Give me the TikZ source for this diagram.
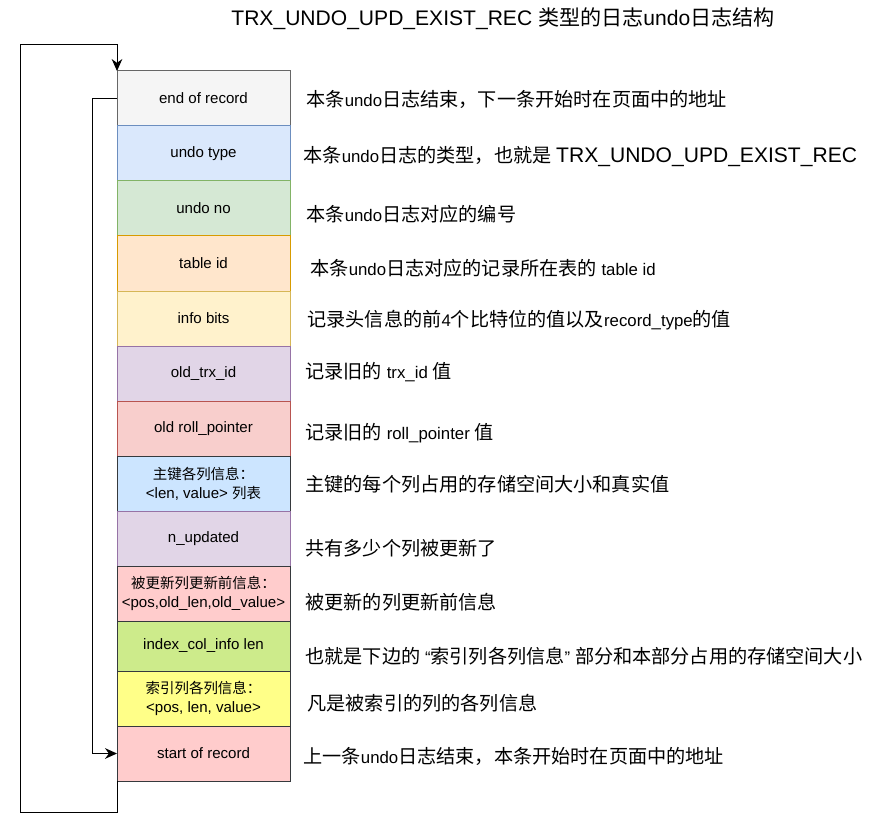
\documentclass[tikz,border=0pt]{standalone}
\usepackage{fontspec}
\setmainfont{Liberation Sans}
\newfontfamily\cjkbig[Scale=1.14]{Noto Sans CJK SC}
\newfontfamily\cjknorm{Noto Sans CJK SC}
\newfontfamily\cjksmall[Scale=0.96]{Noto Sans CJK SC}
\newfontfamily\lat{Liberation Sans}
\let\cjkfont\cjkbig
\usetikzlibrary{positioning,arrows.meta}

% switch to the CJK font for Chinese characters
\XeTeXinterchartokenstate=1
\newXeTeXintercharclass\cjkcls
\count255="4E00
\loop
  \XeTeXcharclass\count255=\cjkcls
  \ifnum\count255<"9FFF \advance\count255 by 1 \repeat
\XeTeXcharclass"FF0C=\cjkcls
\XeTeXcharclass"FF1A=\cjkcls
\XeTeXinterchartoks 0 \cjkcls = {\cjkfont}
\XeTeXinterchartoks 4095 \cjkcls = {\cjkfont}
\XeTeXinterchartoks \cjkcls 0 = {\lat}
\XeTeXinterchartoks \cjkcls 4095 = {\lat}

\definecolor{grayF}{HTML}{F5F5F5}\definecolor{grayS}{HTML}{666666}
\definecolor{blueF}{HTML}{DAE8FC}\definecolor{blueS}{HTML}{6C8EBF}
\definecolor{greenF}{HTML}{D5E8D4}\definecolor{greenS}{HTML}{82B366}
\definecolor{orangeF}{HTML}{FFE6CC}\definecolor{orangeS}{HTML}{D79B00}
\definecolor{yellowF}{HTML}{FFF2CC}\definecolor{yellowS}{HTML}{D6B656}
\definecolor{purpleF}{HTML}{E1D5E7}\definecolor{purpleS}{HTML}{9673A6}
\definecolor{redF}{HTML}{F8CECC}\definecolor{redS}{HTML}{B85450}
\definecolor{keyF}{HTML}{CCE5FF}\definecolor{darkS}{HTML}{36393D}
\definecolor{pinkF}{HTML}{FFCCCC}
\definecolor{limeF}{HTML}{CDEB8B}
\definecolor{lemonF}{HTML}{FFFF88}

\begin{document}
\begin{tikzpicture}[x=0.75pt, y=-0.75pt, line width=0.75pt,
  box/.style={rectangle, draw, minimum width=129.75pt, minimum height=41.25pt, inner sep=0pt, outer sep=0pt, align=center, font=\let\cjkfont\cjksmall\fontsize{11.3}{14}\selectfont},
  note/.style={anchor=west, inner sep=0pt, font=\fontsize{12.6}{15}\selectfont},
  arr/.style={-{Stealth[length=9pt,width=8pt]}}]
\useasboundingbox (0,0) rectangle (877,827);
\node[font=\let\cjkfont\cjknorm\fontsize{15.8}{18}\selectfont] (title) at (503,19) {TRX\_UNDO\_UPD\_EXIST\_REC 类型的日志undo日志结构};

\node[box, fill=grayF, draw=grayS] (end) at (203.5,98.5) {end of record};
\node[box, fill=blueF, draw=blueS, below=0pt of end] (type) {undo type};
\node[box, fill=greenF, draw=greenS, below=0pt of type] (no) {undo no};
\node[box, fill=orangeF, draw=orangeS, below=0pt of no] (table) {table id};
\node[box, fill=yellowF, draw=yellowS, below=0pt of table] (bits) {info bits};
\node[box, fill=purpleF, draw=purpleS, below=0pt of bits] (trx) {old\_trx\_id};
\node[box, fill=redF, draw=redS, below=0pt of trx] (roll) {old roll\_pointer};
\node[box, fill=keyF, draw=darkS, below=0pt of roll] (key) {主键各列信息：\\<len, value> 列表};
\node[box, fill=purpleF, draw=purpleS, below=0pt of key] (nupd) {n\_updated};
\node[box, fill=pinkF, draw=darkS, below=0pt of nupd] (old) {被更新列更新前信息：\\<pos,old\_len,old\_value>};
\node[box, fill=limeF, draw=darkS, minimum height=37.5pt, below=0pt of old] (len) {index\_col\_info len};
\node[box, fill=lemonF, draw=darkS, below=0pt of len] (idx) {索引列各列信息：\\<pos, len, value>};
\node[box, fill=pinkF, draw=darkS, below=0pt of idx] (start) {start of record};

\node[note] (d1) at (306,99) {本条undo日志结束，下一条开始时在页面中的地址};
\node[note] (d2) at (303,157) {本条undo日志的类型，也就是 {\fontsize{15.8}{18}\selectfont TRX\_UNDO\_UPD\_EXIST\_REC}};
\node[note] (d3) at (306,214) {本条undo日志对应的编号};
\node[note] (d4) at (310,268) {本条undo日志对应的记录所在表的 table id};
\node[note] (d5) at (307,320) {记录头信息的前4个比特位的值以及record\_type的值};
\node[note] (d6) at (305,372) {记录旧的 trx\_id 值};
\node[note] (d7) at (305,433) {记录旧的 roll\_pointer 值};
\node[note] (d8) at (305,484) {主键的每个列占用的存储空间大小和真实值};
\node[note] (d9) at (305,548) {共有多少个列被更新了};
\node[note] (d10) at (305,602) {被更新的列更新前信息};
\node[note] (d11) at (305,656) {也就是下边的 “索引列各列信息” 部分和本部分占用的存储空间大小};
\node[note] (d12) at (307,703) {凡是被索引的列的各列信息};
\node[note] (d13) at (303,756) {上一条undo日志结束，本条开始时在页面中的地址};

% the two loops on the left
\draw[arr] (start.south west) -- ++(0,31) -| (20,45) -| (end.north west);
\draw[arr] (end.west) -- ++(-25,0) |- (start.west);
\end{tikzpicture}
\end{document}
